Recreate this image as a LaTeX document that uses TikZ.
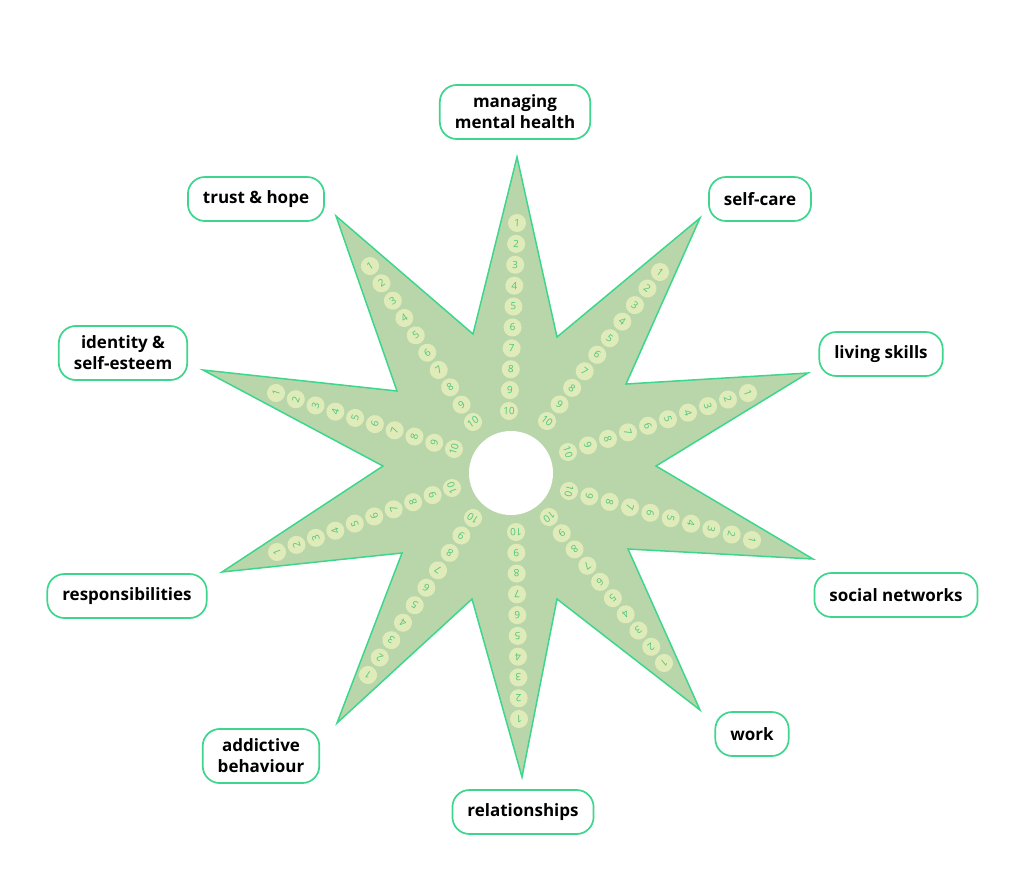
\documentclass[tikz,border=0pt]{standalone}
\usepackage{fontspec}
\setmainfont{Open Sans}
\usepackage{xcolor}
\usepackage{tikz}
\usetikzlibrary{calc}
\definecolor{starfill}{HTML}{B9D6AA}
\definecolor{starline}{HTML}{3DD68C}
\definecolor{dotfill}{HTML}{DFECB9}
\definecolor{dottext}{HTML}{4CC47E}
\tikzset{
  area box/.style={draw=starline, line width=1.7pt, rounded corners=17pt, fill=white,
    align=center, font=\fontsize{17}{21}\selectfont\bfseries,
    inner xsep=15pt, inner ysep=10pt, minimum height=44pt},
  step dot/.style={circle, fill=dotfill, minimum size=18pt, inner sep=0pt,
    text=dottext, font=\fontsize{10}{12}\selectfont},
  star arm/.style={fill=starfill, draw=starline, line width=1.5pt, line join=miter},
}

\begin{document}
\begin{tikzpicture}[x=1pt,y=-1pt]
                        \useasboundingbox (0,0) rectangle (1024,878);
                        \draw[star arm] (517,157) -- (557,337) -- (700,218) -- (626,384) -- (808,373) -- (656,466)
                          -- (813,559) -- (628,549) -- (700,710) -- (557,599) -- (522,777) -- (472,599)
                          -- (337,723) -- (402,553) -- (222,572) -- (383,466) -- (203,370) -- (397,391)
                          -- (336,216) -- (473,334) -- cycle;
                        \fill[white] (511,473) circle[radius=42];
                        \foreach \arm/\xa/\ya/\xb/\yb in {mental/517/223/509/411, selfcare/660/272/547/421,
                            living/748/393/568/452, social/752/540/569/491, work/664/663/549/517,
                            relations/519/719/516/532, addictive/368/675/473/518, respons/277/552/452/488,
                            identity/276/393/454/449, trust/370/266/473/422} {
                          \coordinate (\arm-first) at (\xa,\ya);
                          \coordinate (\arm-last) at (\xb,\yb);
                          \foreach \i in {1,...,10}
                            \path let \p1=($(\arm-first)-(\arm-last)$), \n1={atan2(\y1,\x1)-90} in
                              node[step dot, rotate=\n1] (\arm-\i) at ($(\arm-first)!{(\i-1)/9}!(\arm-last)$) {\i};
                        }
                        \node[area box] (mental) at (515,112) {managing\\mental health};
                        \node[area box] (selfcare) at (760,199) {self-care};
                        \node[area box] (living) at (881,354) {living skills};
                        \node[area box] (social) at (896,595) {social networks};
                        \node[area box] (work) at (752,734) {work};
                        \node[area box] (relations) at (523,812) {relationships};
                        \node[area box] (addictive) at (261,756) {addictive\\behaviour};
                        \node[area box] (respons) at (127,596) {responsibilities};
                        \node[area box] (identity) at (123,353) {identity \&\\self-esteem};
                        \node[area box] (trust) at (256,199) {trust \& hope};
                    \end{tikzpicture}
\end{document}
